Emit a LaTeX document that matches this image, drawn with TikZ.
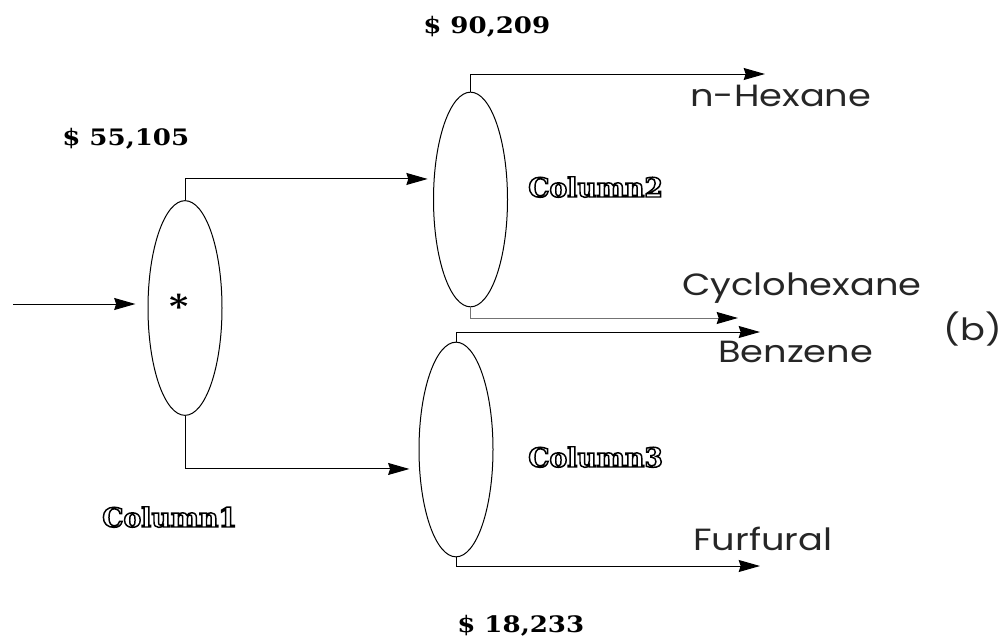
\documentclass[tikz,border=0pt]{standalone}
\usepackage{fontspec}
\usetikzlibrary{shapes.geometric,arrows.meta}
\newfontfamily\costfont[FakeStretch=1.15]{DejaVu Serif}
\newfontfamily\colfont{DejaVu Serif}
\newfontfamily\streamfont[FakeStretch=1.2]{Poppins}
\newcommand{\colname}[1]{\special{pdf:literal direct 1 Tr 1.1 w}#1\special{pdf:literal direct 0 Tr 1 w}}

\begin{document}
\begin{tikzpicture}[x=0.75pt,y=-0.75pt]
  \tikzstyle{column}=[draw,ellipse,inner sep=0pt,minimum width=55.5pt,minimum height=161pt,line width=0.75pt]
  \tikzstyle{flow}=[line width=0.75pt,-{Stealth[length=16pt,width=9pt,inset=1.5pt,black]}]
  \tikzstyle{cost}=[anchor=base west,inner sep=0pt,font=\costfont\bfseries\fontsize{17}{20}\selectfont]
  \tikzstyle{tag}=[anchor=base west,inner sep=0pt,font=\colfont\bfseries\fontsize{20}{24}\selectfont]
  \tikzstyle{stream}=[anchor=base west,inner sep=0pt,text=black!85,font=\streamfont\fontsize{23}{28}\selectfont]
  \useasboundingbox (0,0) rectangle (1006,639);
  % columns
  \node[column] (c1) at (185,308) {};
  \node[column] (c2) at (470.5,199.5) {};
  \node[column] (c3) at (456,449.5) {};
  \node[anchor=base,inner sep=0pt,font=\streamfont\fontsize{30}{34}\selectfont] (mark) at (179,323.5) {*};
  % free ends
  \coordinate (feed) at (13,304);
  \coordinate (hex) at (765,74);
  \coordinate (cyc) at (738,318);
  \coordinate (ben) at (760,332);
  \coordinate (fur) at (760,566);
  % streams
  \draw[flow] (feed) -- ([yshift=3pt]c1.west) [shorten >=9pt];
  \draw[flow,shorten >=4pt] (c1.north) |- ([yshift=15.4pt]c2.west);
  \draw[flow,shorten >=6.8pt] (c1.south) |- ([yshift=-14.6pt]c3.west);
  \draw[flow] (c2.north) |- (hex);
  \draw[flow,draw=black!55] (c2.south) |- (cyc);
  \draw[flow] (c3.north) |- (ben);
  \draw[flow] (c3.south) |- (fur);
  % labels
  \node[cost] (k1) at (62,145) {\$ 55,105};
  \node[cost] (k2) at (423,33) {\$ 90,209};
  \node[cost] (k3) at (457,632) {\$ 18,233};
  \node[tag] (t1) at (102,527) {\colname{Column1}};
  \node[tag] (t2) at (528,197) {\colname{Column2}};
  \node[tag] (t3) at (528,467) {\colname{Column3}};
  \node[stream] (s1) at (690,106) {n-Hexane};
  \node[stream] (s2) at (682,295) {Cyclohexane};
  \node[stream] (s3) at (718,362) {Benzene};
  \node[stream] (s4) at (693,550) {Furfural};
  \node[stream,anchor=base east] (fig) at (1002,340) {(b)};
\end{tikzpicture}
\end{document}
